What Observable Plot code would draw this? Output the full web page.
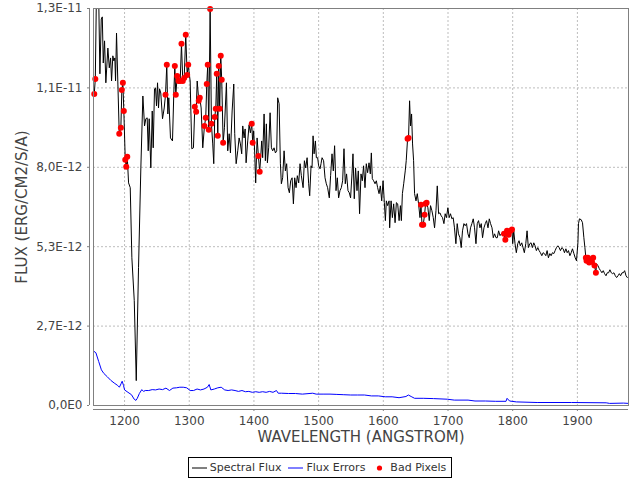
<!DOCTYPE html>
<html>
<head>
<meta charset="utf-8">
<script src="https://cdn.jsdelivr.net/npm/d3@7"></script>
<script src="https://cdn.jsdelivr.net/npm/@observablehq/plot@0.6"></script>
<style>
  html, body { margin: 0; padding: 0; background: #fff; }
  #chart svg { display: block; }
  #legend { display: flex; justify-content: center; margin-top: 7px; }
  #legend .box { display: flex; align-items: center; border: 1px solid #000; height: 19px; padding: 0 5px 0 3px;
    font-family: "DejaVu Sans", sans-serif; font-size: 11px; color: #333; }
  #legend .item { display: flex; align-items: center; margin-right: 7px; }
  #legend .item:last-child { margin-right: 0; }
  #legend svg { display: block; margin-right: 3px; }
</style>
</head>
<body>
<div id="chart"></div>
<div id="legend"></div>
<script>
// ---- data (flux in units of 1e-12 erg/cm2/s/A) ----
const FLUX_UNIT = 1e-12;

const wavelength = [
1153.2,1154.8,1156.8,1159.1,1160.3,1161.9,1164.0,1165.6,1167.1,1169.1,
1171.1,1174.2,1176.4,1178.4,1179.9,1181.9,1183.5,1185.0,1186.1,1187.6,
1189.7,1191.8,1194.3,1195.8,1197.4,1198.9,1201.1,1202.6,1204.2,1206.2,
1208.8,1211.3,1215.0,1218.1,1221.6,1225.2,1228.3,1230.9,1232.9,1235.0,
1236.6,1238.1,1240.6,1242.8,1244.3,1246.3,1247.9,1249.4,1251.0,1252.5,
1254.1,1256.0,1258.7,1261.3,1263.3,1265.3,1266.9,1268.4,1271.0,1274.1,
1276.1,1277.7,1279.2,1281.4,1283.4,1286.0,1288.0,1290.0,1292.2,1294.6,
1296.8,1298.4,1301.4,1303.9,1306.5,1308.6,1310.7,1312.3,1314.7,1316.3,
1318.4,1320.9,1323.5,1325.5,1327.1,1328.6,1330.2,1332.3,1334.3,1336.3,
1337.9,1339.4,1341.0,1342.5,1344.1,1345.6,1347.1,1348.7,1350.2,1352.4,
1354.4,1357.5,1359.5,1361.7,1363.7,1366.3,1368.8,1370.3,1372.5,1375.0,
1377.1,1379.1,1381.1,1382.7,1384.8,1386.4,1387.9,1390.4,1392.5,1394.5,
1396.6,1398.1,1399.6,1401.2,1402.7,1404.9,1406.9,1408.9,1410.4,1412.0,
1413.5,1415.7,1417.7,1419.2,1420.8,1422.8,1425.0,1427.0,1429.0,1431.1,
1433.2,1435.2,1436.7,1438.9,1440.9,1442.4,1444.4,1446.6,1448.6,1450.6,
1452.8,1454.8,1456.8,1459.0,1461.0,1463.0,1465.1,1467.1,1469.2,1471.3,
1473.3,1476.0,1478.0,1480.0,1482.2,1484.6,1486.2,1488.3,1489.8,1491.4,
1493.0,1495.0,1496.5,1498.5,1500.0,1502.2,1503.7,1505.3,1507.7,1509.9,
1511.9,1513.9,1516.5,1518.5,1520.7,1522.7,1524.7,1526.9,1528.9,1530.9,
1533.0,1535.1,1537.1,1539.2,1541.2,1543.2,1545.4,1547.4,1549.4,1551.6,
1553.1,1555.1,1557.1,1559.3,1561.3,1563.3,1565.5,1567.5,1569.5,1571.7,
1573.7,1575.7,1577.9,1579.9,1581.5,1583.0,1585.0,1587.2,1589.2,1591.2,
1593.4,1595.4,1597.5,1599.6,1601.6,1603.2,1604.7,1606.7,1608.9,1609.8,
1612.0,1614.0,1616.0,1618.2,1620.2,1622.2,1624.4,1626.4,1627.9,1629.5,
1631.5,1633.9,1635.4,1637.5,1639.0,1640.6,1642.1,1643.7,1645.2,1646.8,
1648.3,1650.5,1652.5,1654.5,1656.7,1658.2,1659.8,1661.7,1663.8,1665.3,
1666.9,1668.9,1671.0,1673.0,1675.1,1677.2,1679.2,1681.4,1683.4,1685.4,
1687.5,1689.5,1691.5,1693.7,1695.6,1697.6,1699.8,1701.8,1703.8,1706.0,
1708.0,1710.0,1712.2,1714.2,1716.2,1718.4,1720.4,1722.4,1724.6,1726.6,
1728.6,1730.8,1732.8,1734.8,1736.9,1739.0,1741.0,1743.2,1745.2,1747.2,
1749.4,1751.4,1753.4,1755.6,1757.6,1759.6,1761.8,1763.8,1765.8,1768.0,
1770.0,1772.0,1774.2,1776.2,1778.2,1780.4,1782.4,1784.4,1786.6,1788.6,
1791.2,1793.7,1796.8,1798.9,1800.0,1801.6,1803.6,1805.6,1807.8,1809.8,
1811.8,1814.0,1816.0,1818.0,1820.2,1822.2,1824.2,1826.4,1828.4,1830.4,
1832.6,1834.6,1836.6,1838.8,1840.8,1842.8,1845.0,1847.0,1849.0,1851.2,
1853.2,1855.2,1857.4,1859.4,1861.4,1863.6,1865.6,1867.6,1869.8,1871.8,
1873.8,1876.0,1878.0,1880.0,1882.2,1884.2,1886.2,1888.4,1890.4,1892.4,
1894.6,1896.6,1898.6,1900.8,1901.7,1903.2,1905.9,1907.9,1910.0,1911.6,
1913.1,1914.1,1916.2,1918.2,1920.2,1922.4,1924.4,1926.4,1928.6,1929.6,
1931.7,1933.8,1935.8,1937.9,1940.0,1942.0,1944.2,1946.2,1948.2,1950.3,
1952.4,1954.4,1956.5,1958.6,1960.6,1962.8,1964.8,1966.8,1969.0,1971.0,
1973.0,1975.2,1977.2
];

const flux = [
10.40,10.90,14.2,13.5,13.27,11.07,12.9,12.97,11.43,12.17,
10.77,11.93,11.27,11.6,10.83,11.67,11.5,11.6,10.83,12.43,
10.73,9.07,9.27,10.53,10.77,9.83,8.2,7.97,8.3,7.43,
7.27,4.93,3.5,0.83,4.6,7.93,10.33,9.33,9.57,9.6,
8.5,9.57,7.93,9.83,8.6,10.57,10.6,10.0,10.77,9.93,
10.57,10.43,9.57,9.93,10.37,11.37,9.73,10.27,8.93,8.83,
10.4,11.33,10.37,11.0,10.83,10.83,12.07,10.83,10.93,12.37,
11.03,11.37,10.83,8.57,8.6,9.97,9.8,10.83,10.17,10.27,
9.93,8.6,9.33,9.6,10.73,11.37,9.2,13.23,9.4,8.73,
8.07,9.63,9.9,11.07,9.0,11.33,9.9,11.67,10.87,8.77,
9.27,10.77,8.5,9.07,8.43,9.83,10.73,9.07,8.07,8.5,
8.93,8.73,8.4,9.33,8.93,9.23,8.1,8.83,9.37,9.1,
9.4,8.77,9.17,8.43,7.43,8.93,8.33,7.8,8.27,8.83,
8.27,9.73,8.17,9.4,8.1,8.6,9.77,8.6,8.5,8.6,
8.43,8.5,10.27,10.07,8.07,7.4,7.6,8.5,7.83,8.07,
7.27,7.1,7.5,7.6,6.73,7.6,7.27,7.67,7.43,8.07,
7.67,7.27,8.17,7.93,8.27,7.4,7.0,8.0,7.93,9.0,
8.4,8.83,8.27,8.27,8.0,7.9,8.07,8.27,8.17,7.6,
7.4,7.27,6.93,7.67,8.4,7.83,8.67,7.17,7.6,6.93,
7.17,7.27,7.5,8.57,7.4,7.73,7.17,7.1,6.93,7.73,
8.4,6.9,7.93,7.17,7.83,6.4,7.73,7.5,8.0,7.27,
8.07,7.77,8.1,7.73,8.43,7.57,7.5,7.4,7.5,7.27,
7.07,7.33,6.83,7.5,6.77,6.17,6.83,6.67,6.83,5.93,
6.83,6.27,6.73,6.1,6.77,6.73,6.17,6.67,6.17,7.07,
7.4,7.83,8.17,8.9,8.93,10.17,9.33,9.73,8.73,8.17,
7.07,6.83,7.07,6.73,6.27,6.7,6.03,6.03,6.37,6.73,
6.77,6.6,6.17,6.67,6.5,6.27,5.93,6.5,7.33,6.4,
6.43,6.33,6.27,6.07,6.4,6.27,6.6,6.27,6.4,6.23,
6.27,5.93,5.4,6.07,5.73,5.6,5.27,5.83,6.07,6.0,
6.07,5.73,5.6,5.93,6.07,6.23,5.93,5.4,6.07,6.17,
5.93,6.07,5.6,5.93,6.07,6.17,5.93,6.23,6.07,5.93,
5.6,5.73,5.6,5.6,5.83,5.67,5.73,5.77,5.73,5.53,
5.83,5.7,5.83,5.87,5.4,5.83,5.4,5.1,5.4,5.5,
5.33,5.43,5.27,5.1,5.4,5.83,5.27,5.4,5.43,5.27,
5.43,5.33,5.17,5.27,5.17,5.1,5.0,5.1,5.07,5.0,
5.17,4.93,5.07,5.0,5.1,5.07,5.17,5.27,5.33,5.27,
5.17,5.27,5.23,5.1,5.23,5.1,5.17,5.0,5.1,5.23,
5.07,4.93,4.83,5.43,6.07,6.23,6.2,6.1,5.6,5.27,
4.93,4.83,4.93,4.77,4.87,4.8,4.93,4.67,4.43,4.73,
4.67,4.57,4.5,4.43,4.5,4.4,4.33,4.43,4.43,4.53,
4.43,4.4,4.43,4.33,4.27,4.33,4.4,4.33,4.43,4.43,
4.5,4.33,4.27
];

const errorWavelength = [
1152.0,1155.7,1160.0,1164.2,1168.0,1173.3,1178.7,1184.0,1189.3,1192.0,
1194.7,1196.3,1198.4,1200.0,1205.3,1210.7,1214.9,1217.6,1219.7,1222.9,
1226.7,1229.4,1232.0,1237.4,1242.7,1248.0,1253.4,1258.7,1264.0,1269.4,
1274.7,1280.1,1285.4,1290.7,1296.1,1301.4,1306.7,1312.1,1317.4,1322.8,
1328.1,1330.8,1333.4,1338.8,1344.1,1349.4,1354.8,1360.1,1365.4,1370.8,
1376.1,1381.5,1386.8,1392.1,1397.5,1402.8,1408.1,1413.5,1418.8,1424.2,
1429.5,1434.8,1437.5,1442.8,1453.5,1464.2,1474.9,1490.9,1496.2,1506.9,
1517.6,1528.2,1538.9,1549.6,1560.2,1570.9,1581.6,1592.3,1602.9,1613.6,
1624.3,1635.0,1638.7,1643.0,1648.3,1661.7,1677.7,1699.0,1709.7,1731.0,
1741.7,1757.7,1773.7,1789.7,1791.3,1795.1,1805.7,1837.8,1891.1,1944.5,
1949.8,1971.2,1979.0
];

const fluxError = [
1.82,1.76,1.47,1.19,1.07,0.96,0.84,0.75,0.67,0.61,
0.73,0.81,0.67,0.52,0.44,0.36,0.21,0.17,0.24,0.40,
0.53,0.47,0.50,0.50,0.53,0.52,0.55,0.53,0.58,0.50,
0.58,0.59,0.61,0.61,0.59,0.50,0.50,0.55,0.52,0.55,
0.61,0.70,0.52,0.55,0.59,0.61,0.52,0.50,0.52,0.50,
0.47,0.50,0.46,0.47,0.44,0.46,0.44,0.46,0.44,0.47,
0.44,0.50,0.41,0.41,0.40,0.40,0.38,0.41,0.38,0.38,
0.38,0.37,0.36,0.35,0.35,0.35,0.32,0.32,0.29,0.29,
0.26,0.30,0.35,0.30,0.24,0.24,0.23,0.21,0.18,0.18,
0.15,0.15,0.14,0.14,0.24,0.15,0.12,0.10,0.10,0.09,
0.07,0.08,0.07
];

const badWavelength = [
1153.2,1154.8,1191.8,1194.3,1195.8,1197.4,1198.9,1201.1,1202.6,1204.2,
1263.3,1265.3,1277.7,1279.2,1281.4,1283.4,1286.0,1288.0,1290.0,1292.2,
1294.6,1296.8,1298.4,1308.6,1310.7,1314.7,1316.3,1323.5,1325.5,1327.1,
1328.6,1330.2,1332.3,1334.3,1339.4,1341.0,1342.5,1344.1,1345.6,1347.1,
1348.7,1350.2,1352.4,1396.6,1398.1,1406.9,1408.9,1637.5,1639.0,1658.2,
1659.8,1661.7,1663.8,1665.3,1666.9,1786.6,1788.6,1791.2,1793.7,1796.8,
1798.9,1913.1,1914.1,1916.2,1918.2,1920.2,1922.4,1924.4,1926.4,1928.6
];
const badFlux = [
10.40,10.90,9.07,9.27,10.53,10.77,9.83,8.2,7.97,8.3,
10.37,11.37,11.33,10.37,11.0,10.83,10.83,12.07,10.83,10.93,
12.37,11.03,11.37,9.97,9.8,10.17,10.27,9.33,9.6,10.73,
11.37,9.2,13.23,9.4,9.63,9.9,11.07,9.0,11.33,9.9,
11.67,10.87,8.77,9.4,8.77,8.33,7.8,8.9,8.93,6.7,
6.03,6.03,6.37,6.73,6.77,5.73,5.53,5.83,5.7,5.83,
5.87,4.93,4.83,4.93,4.77,4.87,4.8,4.93,4.67,4.43
];

const xTicks = [1200, 1300, 1400, 1500, 1600, 1700, 1800, 1900];
const yTicks = [0, 2.65e-12, 5.3e-12, 7.95e-12, 1.06e-11, 1.325e-11];
const yTickLabels = ["0,0E0", "2,7E-12", "5,3E-12", "8,0E-12", "1,1E-11", "1,3E-11"];
const xLabel = "WAVELENGTH (ANGSTROM)";
const yLabel = "FLUX (ERG/CM2/S/A)";
const seriesNames = ["Spectral Flux", "Flux Errors", "Bad Pixels"];
const seriesColors = ["#000000", "#0000ff", "#ff0000"];

// ---- tables built from the arrays ----
const fluxRows = wavelength.map((w, i) => ({w, f: flux[i] * FLUX_UNIT}));
const errorRows = errorWavelength.map((w, i) => ({w, e: fluxError[i] * FLUX_UNIT}));
const badRows = badWavelength.map((w, i) => ({w, f: badFlux[i] * FLUX_UNIT}));

const font = "DejaVu Sans, sans-serif";
const axisColor = "#808080";

const chart = Plot.plot({
  width: 640,
  height: 450,
  marginLeft: 93,
  marginRight: 12,
  marginTop: 8,
  marginBottom: 45,
  style: {fontFamily: font, fontSize: "12px", color: "#444", background: "#fff", overflow: "visible"},
  x: {domain: [1152, 1979]},
  y: {domain: [0, 1.325e-11]},
  marks: [
    Plot.gridX({ticks: xTicks, stroke: "#bdbdbd", strokeOpacity: 1, strokeDasharray: "2,2"}),
    Plot.gridY({ticks: yTicks.slice(1, -1), stroke: "#bdbdbd", strokeOpacity: 1, strokeDasharray: "2,2"}),
    Plot.line(errorRows, {x: "w", y: "e", stroke: seriesColors[1], strokeWidth: 1, clip: true}),
    Plot.line(fluxRows, {x: "w", y: "f", stroke: seriesColors[0], strokeWidth: 1, clip: true}),
    Plot.dot(badRows, {x: "w", y: "f", r: 3, fill: seriesColors[2], stroke: "none"}),
    Plot.frame({stroke: axisColor}),
    Plot.ruleX([1152], {dx: -4, stroke: axisColor}),
    Plot.ruleY([0], {dy: 4, stroke: axisColor}),
    Plot.axisY({ticks: yTicks, tickFormat: d => yTickLabels[yTicks.indexOf(d)], tickSize: 2, tickPadding: 5, dx: -4,
      label: null, fontSize: 12, fill: "#444", stroke: axisColor}),
    Plot.axisX({ticks: xTicks, tickFormat: d => String(d), tickSize: 2, tickPadding: 5, dy: 4,
      label: null, fontSize: 12, fill: "#444", stroke: axisColor}),
    Plot.text([xLabel], {text: d => d, frameAnchor: "bottom", textAnchor: "middle", lineAnchor: "middle",
      dy: 32, fontSize: 15, fill: "#444"}),
    Plot.text([yLabel], {text: d => d, frameAnchor: "left", textAnchor: "middle", lineAnchor: "middle",
      rotate: -90, dx: -71, fontSize: 15, fill: "#444"})
  ]
});
document.getElementById("chart").appendChild(chart);

// ---- legend (HTML, below the SVG) ----
const legend = document.getElementById("legend");
const box = document.createElement("div");
box.className = "box";
seriesNames.forEach((name, i) => {
  const item = document.createElement("div");
  item.className = "item";
  const sw = i < 2
    ? `<svg width="15" height="10"><line x1="0" x2="15" y1="5" y2="5" stroke="${seriesColors[i]}" stroke-width="1"/></svg>`
    : `<svg width="15" height="10"><circle cx="7.5" cy="5" r="2.6" fill="${seriesColors[i]}"/></svg>`;
  item.innerHTML = sw + `<span>${name}</span>`;
  box.appendChild(item);
});
legend.appendChild(box);
</script>
</body>
</html>
